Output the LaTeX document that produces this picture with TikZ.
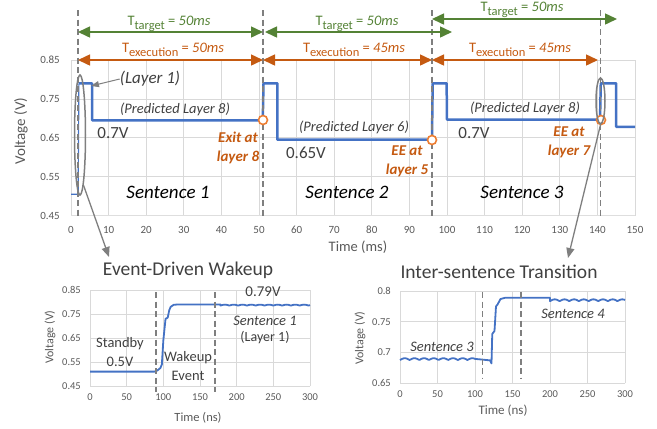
\documentclass[tikz,border=0pt]{standalone}
\usepackage{fontspec}
\setmainfont{Carlito}
\usetikzlibrary{arrows.meta,shapes.geometric}
\definecolor{cblue}{HTML}{4472C4}
\definecolor{cgreen}{HTML}{548235}
\definecolor{corange}{HTML}{C55A11}
\definecolor{ccirc}{HTML}{ED7D31}
\definecolor{cgrid}{HTML}{D9D9D9}
\definecolor{ctick}{HTML}{595959}
\definecolor{ctext}{HTML}{404040}
\definecolor{cdash}{HTML}{7F7F7F}
\newcommand\myfs[1]{\fontsize{#1}{#1}\selectfont}
\newcommand\Tsub[1]{T\raisebox{-4pt}{\myfs{12.5}#1}}
\begin{document}
\begin{tikzpicture}[x=1pt,y=-1pt,
  gridl/.style={cgrid, line width=0.8pt},
  ticklab/.style={text=ctick, font=\myfs{11}, inner sep=0pt},
  sticklab/.style={text=ctick, font=\myfs{10.5}, inner sep=0pt},
  sig/.style={cblue, line width=2.5pt, line join=round},
  ssig/.style={cblue, line width=1.8pt, line join=round},
  vdash/.style={cdash, line width=1.6pt, dash pattern=on 6pt off 3.5pt},
  garrow/.style={cgreen, line width=1.5pt, {Triangle[length=12pt,width=11pt]}-{Triangle[length=12pt,width=11pt]}},
  oarrow/.style={corange, line width=1.5pt, {Triangle[length=12pt,width=11pt]}-{Triangle[length=12pt,width=11pt]}},
  glab/.style={text=cgreen, font=\myfs{14.5}, inner sep=0pt, anchor=base},
  olab/.style={text=corange, font=\myfs{14.5}, inner sep=0pt, anchor=base},
  circ/.style={circle, draw=ccirc, line width=1.6pt, fill=white, minimum size=9pt, inner sep=0pt},
  ell/.style={ellipse, draw=cdash, line width=1.5pt, inner sep=0pt},
  pointer/.style={cdash, line width=1.3pt, -{Triangle[length=10pt,width=8pt]}},
  lab/.style={text=ctext, inner sep=0pt},
  ee/.style={text=corange, font=\bfseries\itshape\fontsize{15}{19}\selectfont, align=center, inner sep=0pt},
  axlab/.style={text=ctick, inner sep=0pt}]
\useasboundingbox (0,0) rectangle (657,429);

% ================= main chart =================
\begin{scope}[shift={(71,390.65)}, x=3.76pt, y=389pt]
  \foreach \t in {0,10,...,150} \draw[gridl] (\t,0.45) -- (\t,0.85);
  \foreach \v in {0.45,0.55,0.65,0.75,0.85} \draw[gridl] (0,\v) -- (150,\v);
  \draw[cgrid!80!black!40, line width=0.8pt] (0,0.45) -- (150,0.45);
  \foreach \t [count=\i] in {0,10,...,150}
    \node[ticklab] (mx\i) at (\t,0.45) [yshift=-14pt] {\t};
  \foreach \v [count=\i] in {0.45,0.55,0.65,0.75,0.85}
    \node[ticklab, anchor=east] (my\i) at (0,\v) [xshift=-11pt] {\v};
  \draw[cblue, line width=1.2pt] (0,0.505) -- (1.9,0.505) -- (2.1,0.79);
  \draw[sig] (2.1,0.79) -- (5.6,0.79) -- (5.6,0.695) -- (51,0.695) -- (51.2,0.79)
    -- (54.9,0.79) -- (54.9,0.645) -- (96,0.645) -- (96.2,0.79) -- (99.9,0.79)
    -- (100,0.697) -- (140.7,0.697) -- (140.9,0.79) -- (145,0.79) -- (145,0.678)
    -- (150,0.678);
\end{scope}

% dashed separators
\coordinate (d1t) at (78,10);    \coordinate (d1b) at (78,216);
\coordinate (d2t) at (263,10);   \coordinate (d2b) at (263,216);
\coordinate (d3t) at (432,10);   \coordinate (d3b) at (432,216);
\coordinate (d4t) at (600.5,10); \coordinate (d4b) at (600.5,216);
\foreach \k in {1,2,3,4} \draw[vdash] (d\k t) -- (d\k b);

% target / execution arrows
\coordinate (g1a) at (78,32);  \coordinate (g1b) at (263,32);
\coordinate (g2a) at (265,32); \coordinate (g2b) at (452,32);
\coordinate (g3a) at (432,19); \coordinate (g3b) at (617,19);
\coordinate (o1a) at (78,60);  \coordinate (o1b) at (263,60);
\coordinate (o2a) at (263,60); \coordinate (o2b) at (432,60);
\coordinate (o3a) at (432,60); \coordinate (o3b) at (598,60);
\foreach \k in {1,2,3} \draw[garrow] (g\k a) -- (g\k b);
\foreach \k in {1,2,3} \draw[oarrow] (o\k a) -- (o\k b);
\node[glab] (gl1) at (169,25) {\Tsub{target} = \textit{50ms}};
\node[glab] (gl2) at (357,25) {\Tsub{target} = \textit{50ms}};
\node[glab] (gl3) at (522,11.5) {\Tsub{target} = \textit{50ms}};
\node[olab] (ol1) at (173,52.5) {\Tsub{execution} = \textit{50ms}};
\node[olab] (ol2) at (354,52.5) {\Tsub{execution} = \textit{45ms}};
\node[olab] (ol3) at (520,52.5) {\Tsub{execution} = \textit{45ms}};

% exit circles
\node[circ] (c1) at (263,120) {};
\node[circ] (c2) at (432,140) {};
\node[circ] (c3) at (601,120) {};

% ellipses and pointers
\node[ell, minimum width=11pt, minimum height=120pt] (e1) at (80,135) {};
\node[ell, minimum width=9pt, minimum height=46pt] (e2) at (600.5,101) {};
\coordinate (z1) at (109,257);
\coordinate (z2) at (568,258);
\draw[pointer] (e1.-86) -- (z1);
\draw[pointer] (e2.south) -- (z2);

% main chart labels
\node[lab, font=\itshape\myfs{17}] (L1) at (150,79) {(Layer 1)};
\coordinate (L1tip) at (91,86);
\draw[cdash, line width=1pt, -{Triangle[length=8pt,width=6pt]}] (L1.west) -- (L1tip);
\node[lab, font=\itshape\myfs{14.5}] (p8a) at (175,109) {(Predicted Layer 8)};
\node[lab, font=\itshape\myfs{14.5}] (p6) at (354,127) {(Predicted Layer 6)};
\node[lab, font=\itshape\myfs{14.5}] (p8b) at (525,108) {(Predicted Layer 8)};
\node[lab, font=\myfs{17}] (v1) at (113,133) {0.7V};
\node[lab, font=\myfs{17}] (v2) at (306,153) {0.65V};
\node[lab, font=\myfs{17}] (v3) at (474,133) {0.7V};
\node[ee] (x8) at (238,147.5) {Exit at\\layer 8};
\node[ee] (x5) at (407,161) {EE at\\layer 5};
\node[ee] (x7) at (569,142.5) {EE at\\layer 7};
\node[lab, text=black, font=\itshape\myfs{19}] (s1) at (168,192) {Sentence 1};
\node[lab, text=black, font=\itshape\myfs{19}] (s2) at (347,192) {Sentence 2};
\node[lab, text=black, font=\itshape\myfs{19}] (s3) at (522,192) {Sentence 3};
\node[axlab, font=\myfs{15}, rotate=90] (mylab) at (21,131) {Voltage (V)};
\node[axlab, font=\myfs{14.5}] (mxlab) at (358,247) {Time (ms)};

% ================= bottom-left chart =================
\node[lab, font=\myfs{19.5}] (t1) at (188,270) {Event-Driven Wakeup};
\begin{scope}[shift={(90,494)}, x=0.7333pt, y=240pt]
  \foreach \t in {0,50,...,300} \draw[gridl] (\t,0.45) -- (\t,0.85);
  \foreach \v in {0.45,0.55,0.65,0.75,0.85} \draw[gridl] (0,\v) -- (300,\v);
  \foreach \t [count=\i] in {0,50,...,300}
    \node[sticklab] (bx\i) at (\t,0.45) [yshift=-11pt] {\t};
  \foreach \v [count=\i] in {0.45,0.55,0.65,0.75,0.85}
    \node[sticklab, anchor=east] (by\i) at (0,\v) [xshift=-9pt] {\v};
  \draw[ssig] (0,0.51) -- (88,0.51) -- (92,0.515) -- (96,0.525) -- (98,0.54)
    -- (100,0.64) -- (102,0.70) -- (103,0.73) -- (106,0.735) -- (108,0.765)
    -- (110,0.78) -- (114,0.788) -- (120,0.79) -- (178,0.79)
    -- plot[domain=178:300, samples=120] (\x,{0.785+0.004*abs(sin((\x-178)*15))});
\end{scope}
\coordinate (bd1t) at (156,292);   \coordinate (bd1b) at (156,392);
\coordinate (bd2t) at (214.7,292); \coordinate (bd2b) at (214.7,392);
\draw[vdash] (bd1t) -- (bd1b);
\draw[vdash] (bd2t) -- (bd2b);
\node[lab, font=\fontsize{14.5}{19}\selectfont, align=center] (sb) at (120,352.5) {Standby\\0.5V};
\node[lab, font=\fontsize{14.5}{19}\selectfont, align=center] (we) at (188,366) {Wakeup\\Event};
\node[lab, font=\myfs{15}] (v79) at (263,292) {0.79V};
\node[lab, font=\itshape\myfs{14.5}] (bs1) at (265,321) {Sentence 1};
\node[lab, font=\myfs{14}] (bl1) at (265,338) {(Layer 1)};
\node[axlab, font=\myfs{12}, rotate=90] (bylab) at (50,337) {Voltage (V)};
\node[axlab, font=\myfs{12.5}] (bxlab) at (198,418) {Time (ns)};

% ================= bottom-right chart =================
\node[lab, font=\myfs{19.5}] (t2) at (499,272) {Inter-sentence Transition};
\begin{scope}[shift={(400,781.7)}, x=0.75pt, y=613.3pt]
  \foreach \t in {0,50,...,300} \draw[gridl] (\t,0.65) -- (\t,0.8);
  \foreach \v in {0.65,0.7,0.75,0.8} \draw[gridl] (0,\v) -- (300,\v);
  \foreach \t [count=\i] in {0,50,...,300}
    \node[sticklab] (rx\i) at (\t,0.65) [yshift=-11pt] {\t};
  \foreach \v [count=\i] in {0.65,0.7,0.75,0.8}
    \node[sticklab, anchor=east] (ry\i) at (0,\v) [xshift=-9pt] {\v};
  \draw[ssig] plot[domain=0:100, samples=80] (\x,{0.6875+0.003*abs(sin(\x*14))})
    -- (120,0.687) -- (122,0.682) -- (123,0.73) -- (126,0.735) -- (128,0.775)
    -- (130,0.778) -- (134,0.787) -- (140,0.789) -- (200,0.789)
    -- plot[domain=200:300, samples=80] (\x,{0.7835+0.003*abs(sin((\x-200)*14))});
\end{scope}
\coordinate (rd1t) at (482.5,292);  \coordinate (rd1b) at (482.5,378);
\coordinate (rd2t) at (520.75,292); \coordinate (rd2b) at (520.75,378);
\draw[vdash] (rd1t) -- (rd1b);
\draw[vdash] (rd2t) -- (rd2b);
\node[lab, font=\itshape\myfs{14.5}] (rs3) at (442,347) {Sentence 3};
\node[lab, font=\itshape\myfs{14.5}] (rs4) at (573,314) {Sentence 4};
\node[axlab, font=\myfs{12}, rotate=90] (rylab) at (360,338) {Voltage (V)};
\node[axlab, font=\myfs{13}] (rxlab) at (503,411) {Time (ns)};
\end{tikzpicture}
\end{document}
